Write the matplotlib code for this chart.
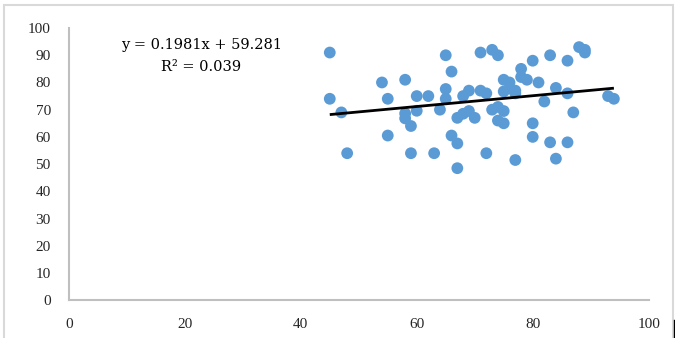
import matplotlib.pyplot as plt
from matplotlib.lines import Line2D
from matplotlib.patches import Rectangle

# observed scores
x_vals = [45, 45, 47, 48, 54, 55, 55, 58, 58, 58, 59, 59, 60, 60, 62, 63, 64,
          65, 66, 65, 65, 66, 67, 67, 67, 68, 69, 68, 69, 70, 71, 71, 72, 72,
          73, 74, 73, 74, 75, 74, 75, 75, 76, 78, 75, 76, 77, 77, 77, 78, 79,
          80, 80, 80, 81, 82, 83, 83, 84, 84, 86, 86, 86, 87, 88, 89, 89, 93, 94]
y_vals = [91, 74, 69, 54, 80, 74, 60.5, 81, 68.6, 66.8, 64, 54, 75, 69.6, 75, 54, 70,
          90, 84, 77.6, 74, 60.5, 67, 57.6, 48.5, 75, 77, 68.5, 69.5, 67, 91, 77, 76, 54,
          92, 90, 70, 71, 69.5, 66, 65, 81, 80, 82, 76.7, 77.8, 77, 76, 51.5, 85, 81,
          88, 65, 60, 80, 73, 90, 58, 78, 52, 88, 76, 58, 69, 93, 92, 91, 75, 74]

# linear fit reported on the chart
slope = 0.1981
intercept = 59.281
r_squared = 0.039

x_ticks = [0, 20, 40, 60, 80, 100]
y_ticks = list(range(0, 101, 10))

serif = ['Liberation Serif', 'DejaVu Serif']

fig = plt.figure(figsize=(6.75, 3.38), dpi=100)
ax = fig.add_axes([0.102, 0.112, 0.859, 0.805])

ax.scatter(x_vals, y_vals, s=72, color='#5B9BD5', edgecolors='none', zorder=3)

x_fit = [min(x_vals), max(x_vals)]
y_fit = [slope * v + intercept for v in x_fit]
ax.plot(x_fit, y_fit, color='black', lw=2, zorder=4, solid_capstyle='butt')

ax.text(22.8, 93.6, f'y = {slope}x + {intercept}', ha='center', va='center',
        fontsize=10.5, family='DejaVu Serif')
ax.text(22.8, 85.6, f'R² = {r_squared}', ha='center', va='center',
        fontsize=10.5, family='DejaVu Serif')

ax.set_xlim(0, 100)
ax.set_ylim(0, 100)
ax.set_xticks(x_ticks)
ax.set_yticks(y_ticks)
ax.tick_params(length=0, labelsize=11, colors='#262626')
ax.tick_params(axis='y', pad=13)
ax.tick_params(axis='x', pad=13)
for lab in ax.get_xticklabels() + ax.get_yticklabels():
    lab.set_family(serif)

for side in ['top', 'right']:
    ax.spines[side].set_visible(False)
for side in ['left', 'bottom']:
    ax.spines[side].set_color('#BFBFBF')
    ax.spines[side].set_linewidth(1.5)

# chart area border
fig.patches.append(Rectangle((4 / 675, -0.05), 669 / 675, 1.05 - 5 / 338,
                             transform=fig.transFigure, fill=False,
                             edgecolor='#D9D9D9', lw=1.5))
fig.lines.append(Line2D([674 / 675, 674 / 675], [0, 18 / 338],
                        transform=fig.transFigure, color='black', lw=1))

fig.savefig('out.png', dpi=100)
